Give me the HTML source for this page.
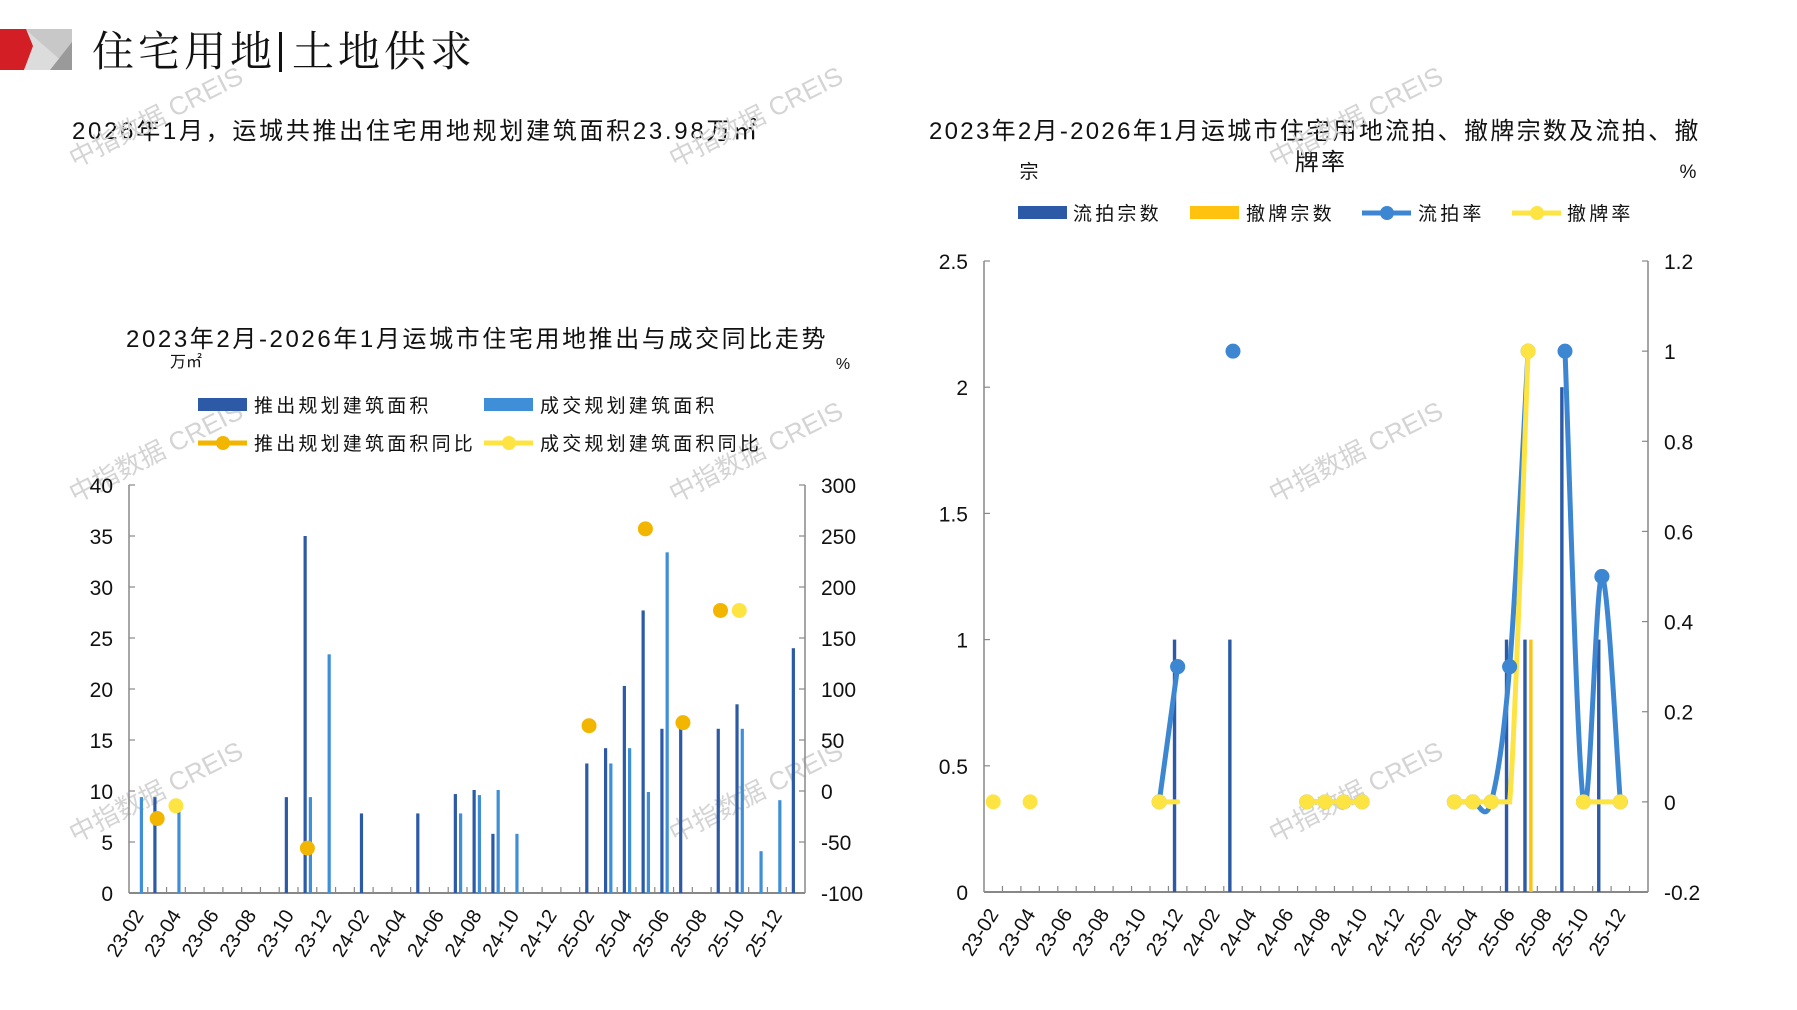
<!DOCTYPE html>
<html><head><meta charset="utf-8">
<style>
html,body{margin:0;padding:0;background:#fff;}
svg{display:block;}
text{font-family:"Liberation Sans","Noto Sans CJK SC",sans-serif;fill:#111;}
.t{font-family:"Liberation Sans","Noto Serif CJK SC",serif;}
.wm{fill:#d4d4d4;font-size:26px;}
</style></head>
<body>
<svg id="s" width="1797" height="1010" viewBox="0 0 1797 1010" xmlns="http://www.w3.org/2000/svg">
<polygon points="25,29 72,29 72,70 25,70" fill="#c8c8c8"/>
<polygon points="25,29 72,70 25,70" fill="#dcdcdc"/>
<polygon points="72,42 72,70 50,70" fill="#9a9a9a"/>
<polygon points="0,29 26,29 33,46 24,70 0,70" fill="#d21e24"/>
<text x="92" y="66" class="t" font-size="42" letter-spacing="4">住宅用地</text>
<rect x="279" y="32" width="3" height="40" fill="#111"/>
<text x="292" y="66" class="t" font-size="42" letter-spacing="4">土地供求</text>

<text x="72" y="139" font-size="24" letter-spacing="2.7">2026年1月，运城共推出住宅用地规划建筑面积23.98万㎡</text>
<text x="929" y="139" font-size="24" letter-spacing="2.3">2023年2月-2026年1月运城市住宅用地流拍、撤牌宗数及流拍、撤</text>
<text x="1321" y="170" font-size="24" text-anchor="middle" letter-spacing="2.3">牌率</text>
<text x="1029" y="178" font-size="19" text-anchor="middle">宗</text>
<text x="1688" y="178" font-size="19" text-anchor="middle">%</text>

<text x="126" y="347" font-size="24" letter-spacing="2.6">2023年2月-2026年1月运城市住宅用地推出与成交同比走势</text>
<text x="186" y="367" font-size="16" text-anchor="middle">万㎡</text>
<text x="843" y="369" font-size="16" text-anchor="middle">%</text>

<g id="g"></g>
</svg>
<script>
var NS="http://www.w3.org/2000/svg",g=document.getElementById('g');
function el(t,a,txt){var e=document.createElementNS(NS,t);for(var k in a)e.setAttribute(k,a[k]);if(txt!=null)e.textContent=txt;g.appendChild(e);return e;}
[[160,125],[760,125],[1360,125],[160,460],[760,460],[1360,460],[160,800],[760,800],[1360,800]].forEach(function(p){
 el('text',{x:p[0],y:p[1],'class':'wm','text-anchor':'middle',transform:'rotate(-27 '+p[0]+' '+p[1]+')'},'中指数据 CREIS');});
function legBar(x,y,c){el('rect',{x:x,y:y-7,width:49,height:13,fill:c});}
function legLine(x,y,c){el('line',{x1:x,y1:y,x2:x+49,y2:y,stroke:c,'stroke-width':5});el('circle',{cx:x+25,cy:y,r:7,fill:c});}
var LS={'font-size':19,'letter-spacing':3.2};
function tx(x,y,s){var a={x:x,y:y};for(var k in LS)a[k]=LS[k];el('text',a,s);}
legBar(198,405,'#2c5aa6');tx(254,412,'推出规划建筑面积');
legBar(484,405,'#3f8fd8');tx(540,412,'成交规划建筑面积');
legLine(198,443,'#f2b500');tx(254,450,'推出规划建筑面积同比');
legLine(484,443,'#fde443');tx(540,450,'成交规划建筑面积同比');
legBar(1018,213,'#2c5aa6');tx(1073,220,'流拍宗数');
legBar(1190,213,'#ffc20e');tx(1246,220,'撤牌宗数');
legLine(1362,213,'#3d86d2');tx(1418,220,'流拍率');
legLine(1512,213,'#fde443');tx(1567,220,'撤牌率');

var labs=[];for(var i=0;i<36;i++){var y=23+Math.floor((i+1)/12),m=(i+1)%12+1;labs.push(y+'-'+(m<10?'0':'')+m);}
function axes(x0,x1,y0,y1,lt,rt){
 var w=(x1-x0)/36;
 el('line',{x1:x0,y1:y0,x2:x0,y2:y1,stroke:'#888','stroke-width':1.5});
 el('line',{x1:x1,y1:y0,x2:x1,y2:y1,stroke:'#888','stroke-width':1.5});
 el('line',{x1:x0,y1:y1,x2:x1,y2:y1,stroke:'#888','stroke-width':2});
 for(var i=1;i<36;i++)el('line',{x1:x0+i*w,y1:y1,x2:x0+i*w,y2:y1-6,stroke:'#888','stroke-width':1.2});
 lt.forEach(function(t){var y=y1-(y1-y0)*t[0];el('line',{x1:x0,y1:y,x2:x0+6,y2:y,stroke:'#888','stroke-width':1.2});el('text',{x:x0-16,y:y+8,'font-size':21,'text-anchor':'end'},t[1]);});
 rt.forEach(function(t){var y=y1-(y1-y0)*t[0];el('line',{x1:x1,y1:y,x2:x1-6,y2:y,stroke:'#888','stroke-width':1.2});el('text',{x:x1+16,y:y+8,'font-size':21},t[1]);});
 for(var i=0;i<36;i+=2){var cx=x0+(i+0.5)*w+6,cy=y1+22;el('text',{x:cx,y:cy,'font-size':20,'text-anchor':'end',transform:'rotate(-58 '+cx+' '+cy+')'},labs[i]);}
 return w;}
var LX0=129,LX1=805,LY0=485,LY1=893;
var lw=axes(LX0,LX1,LY0,LY1,[[0,'0'],[.125,'5'],[.25,'10'],[.375,'15'],[.5,'20'],[.625,'25'],[.75,'30'],[.875,'35'],[1,'40']],
 [[0,'-100'],[.125,'-50'],[.25,'0'],[.375,'50'],[.5,'100'],[.625,'150'],[.75,'200'],[.875,'250'],[1,'300']]);
function ly(v){return LY1-v*(LY1-LY0)/40;}
function lp(v){return LY1-(v+100)*(LY1-LY0)/400;}
var D={1:9.4,8:9.4,9:35,12:7.8,15:7.8,17:9.7,18:10.1,19:5.8,24:12.7,25:14.2,26:20.3,27:27.7,28:16.1,29:16.1,31:16.1,32:18.5,35:24};
var L={0:9.4,2:9,9:9.4,10:23.4,17:7.8,18:9.6,19:10.1,20:5.8,25:12.7,26:14.2,27:9.9,28:33.4,32:16.1,33:4.1,34:9.1};
for(var k in D){var x=LX0+(+k+0.38)*lw;el('rect',{x:x-1.6,y:ly(D[k]),width:3.2,height:LY1-ly(D[k]),fill:'#2c5aa6'});}
for(var k in L){var x=LX0+(+k+0.66)*lw;el('rect',{x:x-1.6,y:ly(L[k]),width:3.2,height:LY1-ly(L[k]),fill:'#3f8fd8'});}
[[1,-27],[9,-56],[24,64],[27,257],[29,67],[31,177]].forEach(function(p){el('circle',{cx:LX0+(p[0]+.5)*lw,cy:lp(p[1]),r:7.5,fill:'#f2b500'});});
[[2,-14.5],[32,177]].forEach(function(p){el('circle',{cx:LX0+(p[0]+.5)*lw,cy:lp(p[1]),r:7.5,fill:'#fde443'});});
var RX0=984,RX1=1648,RY0=261,RY1=892;
var rw=axes(RX0,RX1,RY0,RY1,[[0,'0'],[.2,'0.5'],[.4,'1'],[.6,'1.5'],[.8,'2'],[1,'2.5']],
 [[0,'-0.2'],[1/7,'0'],[2/7,'0.2'],[3/7,'0.4'],[4/7,'0.6'],[5/7,'0.8'],[6/7,'1'],[1,'1.2']]);
function ry(v){return RY1-v*(RY1-RY0)/2.5;}
function rp(v){return RY1-(v+0.2)*(RY1-RY0)/1.4;}
[[10,1],[13,1],[28,1],[29,1],[31,2],[33,1]].forEach(function(p){var x=RX0+(p[0]+.33)*rw;el('rect',{x:x-1.7,y:ry(p[1]),width:3.4,height:RY1-ry(p[1]),fill:'#2c5aa6'});});
(function(){var x=RX0+(29+.65)*rw;el('rect',{x:x-1.7,y:ry(1),width:3.4,height:RY1-ry(1),fill:'#ffc20e'});})();
function clamp(v,a,b){var lo=Math.min(a,b),hi=Math.max(a,b);return Math.max(lo,Math.min(hi,v));}
function spline(pts,c,mono){if(pts.length<2)return;var P=pts.map(function(p){return [RX0+(p[0]+.5)*rw,rp(p[1])];});
 var d='M'+P[0][0]+','+P[0][1];
 for(var i=0;i<P.length-1;i++){var p0=P[i-1]||P[i],p1=P[i],p2=P[i+1],p3=P[i+2]||p2;
  var c1y=p1[1]+(p2[1]-p0[1])/6,c2y=p2[1]-(p3[1]-p1[1])/6;
  if(mono){c1y=clamp(c1y,p1[1],p2[1]);c2y=clamp(c2y,p1[1],p2[1]);}
  d+=' C'+(p1[0]+(p2[0]-p0[0])/6)+','+c1y+' '+(p2[0]-(p3[0]-p1[0])/6)+','+c2y+' '+p2[0]+','+p2[1];}
 el('path',{d:d,fill:'none',stroke:c,'stroke-width':5,'stroke-linecap':'round'});}
function marks(pts,c){pts.forEach(function(p){el('circle',{cx:RX0+(p[0]+.5)*rw,cy:rp(p[1]),r:7.5,fill:c});});}
var B=[[[9,0],[10,.3]],[[13,1]],[[17,0],[18,0],[19,0],[20,0]],[[25,0],[26,0],[27,0],[28,.3],[29,1]],[[31,1],[32,0],[33,.5],[34,0]]];
var Y=[[[0,0]],[[2,0]],[[9,0],[10,0]],[[17,0],[18,0],[19,0],[20,0]],[[25,0],[26,0],[27,0],[28,0],[29,1]],[[32,0],[33,0],[34,0]]];
B.forEach(function(s){spline(s,'#3d86d2',false);});B.forEach(function(s){marks(s,'#3d86d2');});
Y.forEach(function(s){spline(s,'#fde443',true);});Y.forEach(function(s){marks(s.filter(function(p){return !(p[0]==10||p[0]==28||p[0]==33);}),'#fde443');});
marks([[10,.3],[28,.3],[33,.5]],'#3d86d2');
</script>
</body></html>
